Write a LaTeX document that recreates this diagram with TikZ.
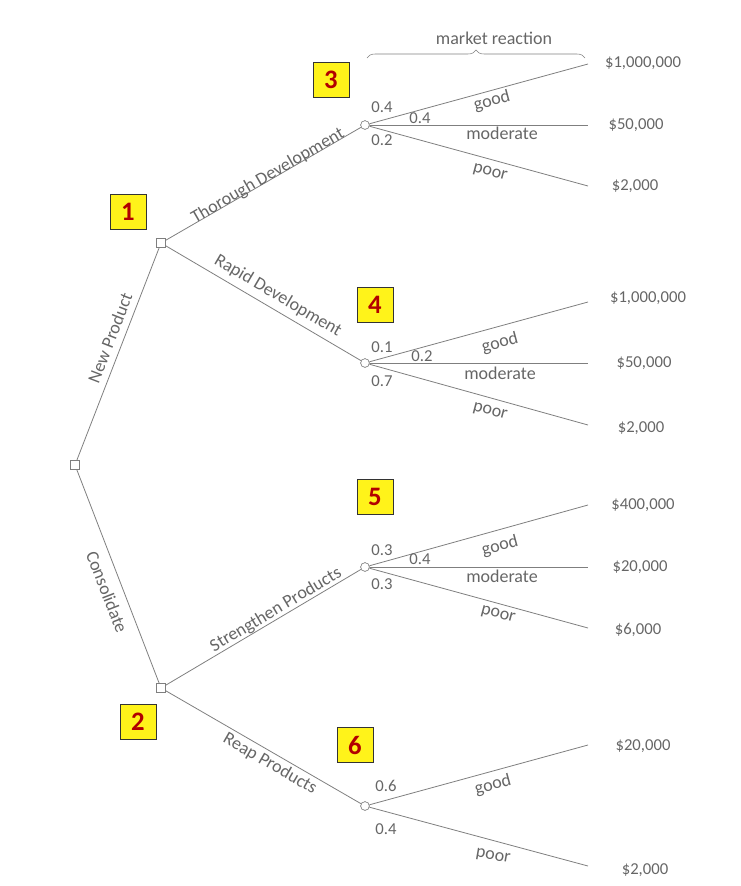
\documentclass[tikz,border=0pt]{standalone}
\usepackage{fontspec}
\setmainfont{Carlito}
\usetikzlibrary{decorations.pathreplacing}
\definecolor{ln}{HTML}{7F7F7F}
\definecolor{tx}{HTML}{666666}
\begin{document}
\begin{tikzpicture}[x=0.75pt,y=-0.75pt,
  dec/.style={draw=ln,fill=white,minimum size=6.5pt,inner sep=0pt},
  ch/.style={circle,draw=ln,fill=white,minimum size=6.5pt,inner sep=0pt},
  br/.style={draw=ln,line width=0.6pt},
  t/.style={text=tx,font=\fontsize{12.5}{14}\selectfont,inner sep=1pt},
  bt/.style={t,font=\fontsize{13.5}{15}\selectfont},
  tag/.style={draw=black!80,fill=yellow!90!white,text=red!70!black,font=\bfseries\fontsize{20}{22}\selectfont,minimum width=27pt,minimum height=26pt,inner sep=0pt}]
\useasboundingbox (0,0) rectangle (740,886);
\node[dec] (r) at (75,465) {};
\node[dec] (n1) at (161,243) {};
\node[dec] (n2) at (161,688) {};
\node[ch] (c3) at (365,125) {};
\node[ch] (c4) at (365,363) {};
\node[ch] (c5) at (365,567) {};
\node[ch] (c6) at (365,806) {};
\foreach \n/\y in {a/64,b/125,c/186,d/302,e/363,f/425,g/505,h/567,i/628,j/745,k/866}
  \coordinate (e\n) at (588,\y);
\draw[br] (r) -- (n1); \draw[br] (r) -- (n2);
\draw[br] (n1) -- (c3); \draw[br] (n1) -- (c4);
\draw[br] (n2) -- (c5); \draw[br] (n2) -- (c6);
\draw[br] (c3) -- (ea); \draw[br] (c3) -- (eb); \draw[br] (c3) -- (ec);
\draw[br] (c4) -- (ed); \draw[br] (c4) -- (ee); \draw[br] (c4) -- (ef);
\draw[br] (c5) -- (eg); \draw[br] (c5) -- (eh); \draw[br] (c5) -- (ei);
\draw[br] (c6) -- (ej); \draw[br] (c6) -- (ek);
\node[dec] at (r) {}; \node[dec] at (n1) {}; \node[dec] at (n2) {};
\foreach \c in {c3,c4,c5,c6} \node[ch] at (\c) {};
% payoffs
\node[t] (pa) at (643,63) {\$1,000,000};
\node[t] (pb) at (636,125) {\$50,000};
\node[t] (pc) at (635,186) {\$2,000};
\node[t] (pd) at (648,298) {\$1,000,000};
\node[t] (pe) at (644,363) {\$50,000};
\node[t] (pf) at (641,428) {\$2,000};
\node[t] (pg) at (643,505) {\$400,000};
\node[t] (ph) at (640,567) {\$20,000};
\node[t] (pi) at (638,630) {\$6,000};
\node[t] (pj) at (643,746) {\$20,000};
\node[t] (pk) at (645,870) {\$2,000};
% branch labels
\node[bt,rotate=68.8] (l1) at (110,338) {New Product};
\node[bt,rotate=-68.8] (l2) at (107,592) {Consolidate};
\node[bt,rotate=30] (l3) at (268,176) {Thorough Development};
\node[bt,rotate=-30.5] (l4) at (278,296) {Rapid Development};
\node[bt,rotate=30.7] (l5) at (276,610) {Strengthen Products};
\node[bt,rotate=-30] (l6) at (270,764) {Reap Products};
% probabilities and outcomes
\node[t] (q31) at (382,107) {0.4}; \node[t] (q32) at (420,118) {0.4}; \node[t] (q33) at (382,140) {0.2};
\node[bt,rotate=15] (o31) at (492,101) {good}; \node[bt] (o32) at (502,133) {moderate}; \node[bt,rotate=-15] (o33) at (490,173) {poor};
\node[t] (q41) at (382,347) {0.1}; \node[t] (q42) at (422,356) {0.2}; \node[t] (q43) at (382,381) {0.7};
\node[bt,rotate=15] (o41) at (500,343) {good}; \node[bt] (o42) at (500,373) {moderate}; \node[bt,rotate=-15] (o43) at (490,412) {poor};
\node[t] (q51) at (382,550) {0.3}; \node[t] (q52) at (420,559) {0.4}; \node[t] (q53) at (382,584) {0.3};
\node[bt,rotate=15] (o51) at (500,546) {good}; \node[bt] (o52) at (502,576) {moderate}; \node[bt,rotate=-15] (o53) at (498,615) {poor};
\node[t] (q61) at (386,786) {0.6}; \node[t] (q62) at (386,829) {0.4};
\node[bt,rotate=15] (o61) at (493,785) {good}; \node[bt,rotate=-10] (o62) at (493,857) {poor};
% brace
\coordinate (bl) at (367,58); \coordinate (brr) at (585,58);
\draw[ln,decorate,decoration={brace,amplitude=6pt}] (bl) -- (brr);
\node[bt] (mr) at (494,38) {market reaction};
% tags
\node[tag] (k3) at (331,80) {3};
\node[tag] (k1) at (128,212) {1};
\node[tag] (k4) at (375,305) {4};
\node[tag] (k5) at (375,497) {5};
\node[tag] (k2) at (138,722) {2};
\node[tag] (k6) at (355,745) {6};
\end{tikzpicture}
\end{document}
